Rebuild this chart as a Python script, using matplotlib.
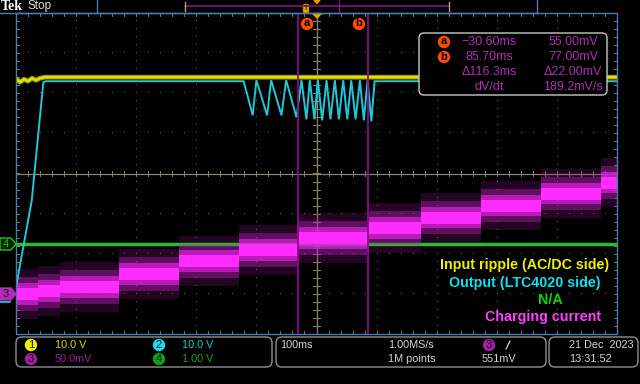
import matplotlib
matplotlib.use('Agg')
import matplotlib.pyplot as plt
from matplotlib.patches import FancyBboxPatch, Circle, Polygon, Rectangle
from matplotlib import font_manager
import numpy as np

# ---------------- data (time in ms, 100 ms/div; vertical in divisions) ----------------
ch1_t = [-500, -493.3, -486.7, -480, -473.3, -466.7, -460, -451.7, 500]
ch1_v = [2.375, 2.275, 2.35, 2.3, 2.375, 2.325, 2.375, 2.4, 2.4]

ch2_t = [-500, -497.2, -473.8, -454.5, -450, -121.2,
         -106.2, -100, -82.2, -75.5, -58.3, -50.5, -33.3, -25, -16.7, -11.2,
         -3.3, 2.2, 9.5, 16.7, 23.3, 30.5, 37.2, 44.5, 51.2, 57.8, 65, 72.2,
         78.8, 85, 91.2, 96.7, 500]
ch2_v = [-2.875, -2.6, -0.675, 2.275, 2.3, 2.3,
         1.45, 2.325, 1.45, 2.325, 1.45, 2.325, 1.4, 2.325, 1.35, 2.325,
         1.35, 2.325, 1.325, 2.325, 1.35, 2.325, 1.35, 2.325, 1.35, 2.325, 1.35, 2.325,
         1.325, 2.325, 1.3, 2.3, 2.3]

ch4_t = [-500, 500]
ch4_v = [-1.75, -1.75]

ch3_edges = [-500, -463.3, -426.7, -328.3, -228.3, -128.3, -30, 86.7, 173.3, 273.3, 373.3, 473.3, 500]
ch3_levels = [-3.0, -2.925, -2.825, -2.5, -2.175, -1.9, -1.6, -1.35, -1.1, -0.8, -0.5, -0.225]

cursor_a = -30.6
cursor_b = 85.7

readout_col1 = ["\u221230.60ms", "85.70ms", "\u0394116.3ms", "dV/dt"]
readout_col2 = ["55.00mV", "77.00mV", "\u039422.00mV", "189.2mV/s"]

legend_labels = ["Input ripple (AC/DC side)", "Output (LTC4020 side)", "N/A", "Charging current"]

# ---------------- fonts ----------------
avail = {f.name for f in font_manager.fontManager.ttflist}
narrow = 'Liberation Sans Narrow' if 'Liberation Sans Narrow' in avail else 'Liberation Sans'
nsize = 9 if narrow == 'Liberation Sans Narrow' else 7.8
plt.rcParams['font.family'] = ['Liberation Sans', 'DejaVu Sans']

YEL = '#e0e000'
CYA = '#1fc8d6'
GRN = '#22c422'
MAG = '#ff2cff'
CUR = '#8c0a8c'
BLUE = '#4a7cb4'

fig = plt.figure(figsize=(6.4, 3.84), dpi=100, facecolor='black')

# ---------------- main graticule axes ----------------
L, R, T, B = 16, 617, 13, 334
ax = fig.add_axes([L / 640, 1 - B / 384, (R - L) / 640, (B - T) / 384], zorder=1)
ax.set_facecolor('black')
ax.set_xlim(-500, 500)
ax.set_ylim(-4, 4)
for s in ax.spines.values():
    s.set_visible(False)
ax.set_xticks([])
ax.set_yticks([])

dot = '#6a6a6a'
# dotted grid
for gx in range(-400, 500, 100):
    if gx == 0:
        continue
    ys = np.arange(-4, 4.01, 0.2)
    ax.plot([gx] * len(ys), ys, ',', color=dot, zorder=0.5)
for gy in range(-3, 4):
    if gy == 0:
        continue
    xs = np.arange(-500, 501, 20)
    ax.plot(xs, [gy] * len(xs), ',', color=dot, zorder=0.5)

# center cross with ticks
cc = '#8c8272'
ax.axhline(0, color=cc, lw=0.9, zorder=0.6)
ax.axvline(0, color=cc, lw=0.9, zorder=0.6)
for tx in np.arange(-500, 501, 20):
    ax.plot([tx, tx], [-0.07, 0.07], color=cc, lw=0.7, zorder=0.6)
    ax.plot([tx, tx], [4, 3.93], color='#7a7a7a', lw=0.7, zorder=0.6)
    ax.plot([tx, tx], [-4, -3.93], color='#7a7a7a', lw=0.7, zorder=0.6)
for ty in np.arange(-4, 4.01, 0.2):
    ax.plot([-5, 5], [ty, ty], color=cc, lw=0.7, zorder=0.6)
    ax.plot([-500, -495], [ty, ty], color='#7a7a7a', lw=0.7, zorder=0.6)
    ax.plot([495, 500], [ty, ty], color='#7a7a7a', lw=0.7, zorder=0.6)

# CH3 charging current: noisy staircase drawn as graded bands
lv = np.array(ch3_levels + [ch3_levels[-1]])
ax.fill_between(ch3_edges, lv - 0.62, lv + 0.62, step='post', color='#a01aa0', alpha=0.22, lw=0, zorder=2)
ax.fill_between(ch3_edges, lv - 0.42, lv + 0.42, step='post', color='#c020c0', alpha=0.38, lw=0, zorder=2.1)
ax.fill_between(ch3_edges, lv - 0.27, lv + 0.27, step='post', color='#e020e0', alpha=0.7, lw=0, zorder=2.2)
ax.fill_between(ch3_edges, lv - 0.15, lv + 0.15, step='post', color=MAG, alpha=1.0, lw=0, zorder=2.3)

# CH4
ax.plot(ch4_t, ch4_v, color=GRN, lw=2.4, zorder=2.05, solid_capstyle='butt')

# CH1 and CH2
ax.plot(ch1_t, ch1_v, color='#9a9a00', lw=3.4, zorder=3.5, solid_capstyle='butt')
ax.plot(ch1_t, ch1_v, color=YEL, lw=1.8, zorder=3.6, solid_capstyle='butt')
ax.plot(ch2_t, ch2_v, color=CYA, lw=1.4, zorder=4, solid_joinstyle='miter')

# cursors
ax.axvline(cursor_a, color=CUR, lw=1.3, zorder=6)
ax.axvline(cursor_b, color=CUR, lw=1.3, zorder=6)

# ---------------- overlay in pixel coordinates ----------------
o = fig.add_axes([0, 0, 1, 1], zorder=5)
o.set_xlim(0, 640)
o.set_ylim(384, 0)
o.set_facecolor('none')
o.axis('off')

# graticule border
o.add_patch(Rectangle((L, T), R - L, B - T, fill=False, edgecolor=BLUE, lw=1.0))

# top bar
o.plot([0, 537], [12.5, 12.5], color=BLUE, lw=1.0)
o.plot([97, 97], [0, 12.5], color=BLUE, lw=1.0)
o.plot([537, 537], [0, 12.5], color=BLUE, lw=1.0)
o.plot([185, 449], [6, 6], color=CUR, lw=1.2)
o.plot([185, 185], [2, 11], color='#b0a080', lw=1.0)
o.plot([449, 449], [2, 11], color='#b0a080', lw=1.0)
o.plot([339, 339], [0, 12], color=CUR, lw=1.0)
o.add_patch(FancyBboxPatch((303.5, 4.5), 5, 8, boxstyle='round,pad=0.3,rounding_size=1.5',
                           facecolor='#f0a000', edgecolor='#f0a000', lw=0.5))
o.text(306, 8.7, 'T', color='#402000', fontsize=5, ha='center', va='center', fontweight='bold')
o.add_patch(Polygon([(314, 0), (320, 0), (317, 3.5)], closed=True, color='#f0a000'))
o.add_patch(Polygon([(312.5, 13.5), (321.5, 13.5), (317, 18)], closed=True, color='#f0a000'))
o.text(1, 6.5, 'Tek', color='white', fontsize=10, fontweight='bold', family='Liberation Serif',
       ha='left', va='center')
o.text(27, 6.5, 'Stop', color='#e0e0e0', fontsize=8.5, ha='left', va='center')

# cursor labels
for cx, lab in [(307, 'a'), (359, 'b')]:
    o.add_patch(Circle((cx, 24), 6.2, facecolor='#ff4a00', edgecolor='none'))
    o.text(cx, 23.5, lab, color='black', fontsize=8, fontweight='bold', ha='center', va='center')

# readout box
o.add_patch(FancyBboxPatch((419, 33), 188, 62, boxstyle='round,pad=0,rounding_size=5',
                           facecolor='black', edgecolor='#c8c8c8', lw=1.0))
rows = [42, 57, 72, 87]
RD = '#b030b0'
for i, y in enumerate(rows):
    o.text(489, y, readout_col1[i], color=RD, fontsize=9, ha='center', va='center')
    o.text(573, y, readout_col2[i], color=RD, fontsize=9, ha='center', va='center')
for y, lab in [(42, 'a'), (57, 'b')]:
    o.add_patch(Circle((444, y), 6.2, facecolor='#ff4a00', edgecolor='none'))
    o.text(444, y - 0.5, lab, color='black', fontsize=8, fontweight='bold', ha='center', va='center')

# left channel markers
o.add_patch(Polygon([(0, 238), (11, 238), (16, 244), (11, 250), (0, 250)], closed=True,
                    facecolor='#002400', edgecolor=GRN, lw=1.0))
o.text(6, 244, '4', color=GRN, fontsize=8, ha='center', va='center')
o.add_patch(Polygon([(0, 288), (11, 288), (16, 294), (11, 300), (0, 300)], closed=True,
                    facecolor='#b42ab4', edgecolor='#b42ab4', lw=1.0))
o.text(6, 294, '3', color='#2a002a', fontsize=8, ha='center', va='center')
o.plot([0, 10], [302, 302], color=CYA, lw=1.3)

# legend texts
leg_pos = [(440, 265, '#f0f000'), (449, 283, '#10e0f0'), (538, 300, '#10d010'), (485, 317, '#ff40ff')]
for lab, (x, y, c) in zip(legend_labels, leg_pos):
    o.text(x, y, lab, color=c, fontsize=10.3, fontweight='bold', ha='left', va='center')

# bottom info boxes
for (x0, x1) in [(16, 272), (276, 546), (549, 638)]:
    o.add_patch(FancyBboxPatch((x0, 337), x1 - x0, 30, boxstyle='round,pad=0,rounding_size=6',
                               facecolor='black', edgecolor='#909090', lw=1.0))

GR = '#d4d4d4'
def badge(x, y, txt, fc, tc):
    o.add_patch(Circle((x, y), 6.2, facecolor=fc, edgecolor='none'))
    o.text(x, y, txt, color=tc, fontsize=8, ha='center', va='center', family=narrow)

badge(31, 345, '1', '#f0f000', '#202000')
badge(159, 345, '2', '#20d8e8', '#002028')
badge(31, 359, '3', '#a020a0', '#200020')
badge(159, 359, '4', '#10a010', '#002000')
o.text(55, 345, '10.0 V', color='#d8d800', fontsize=nsize, family=narrow, ha='left', va='center')
o.text(182, 345, '10.0 V', color='#20c8d0', fontsize=nsize, family=narrow, ha='left', va='center')
o.text(55, 359, '50.0mV', color='#a020a0', fontsize=nsize, family=narrow, ha='left', va='center')
o.text(182, 359, '1.00 V', color='#20a020', fontsize=nsize, family=narrow, ha='left', va='center')

o.text(280, 345, '100ms', color=GR, fontsize=nsize, family=narrow, ha='left', va='center')
o.text(388, 345, '1.00MS/s', color=GR, fontsize=nsize, family=narrow, ha='left', va='center')
o.text(388, 359, '1M points', color=GR, fontsize=nsize, family=narrow, ha='left', va='center')
badge(489, 345, '3', '#a020a0', '#200020')
o.plot([506, 510], [349, 341], color=GR, lw=0.9)
o.text(482, 359, '551mV', color=GR, fontsize=nsize, family=narrow, ha='left', va='center')

o.text(569, 345, '21 Dec  2023', color=GR, fontsize=nsize, family=narrow, ha='left', va='center')
o.text(569, 359, '13:31:52', color=GR, fontsize=nsize, family=narrow, ha='left', va='center')

fig.savefig('out.png', dpi=100, facecolor='black')
